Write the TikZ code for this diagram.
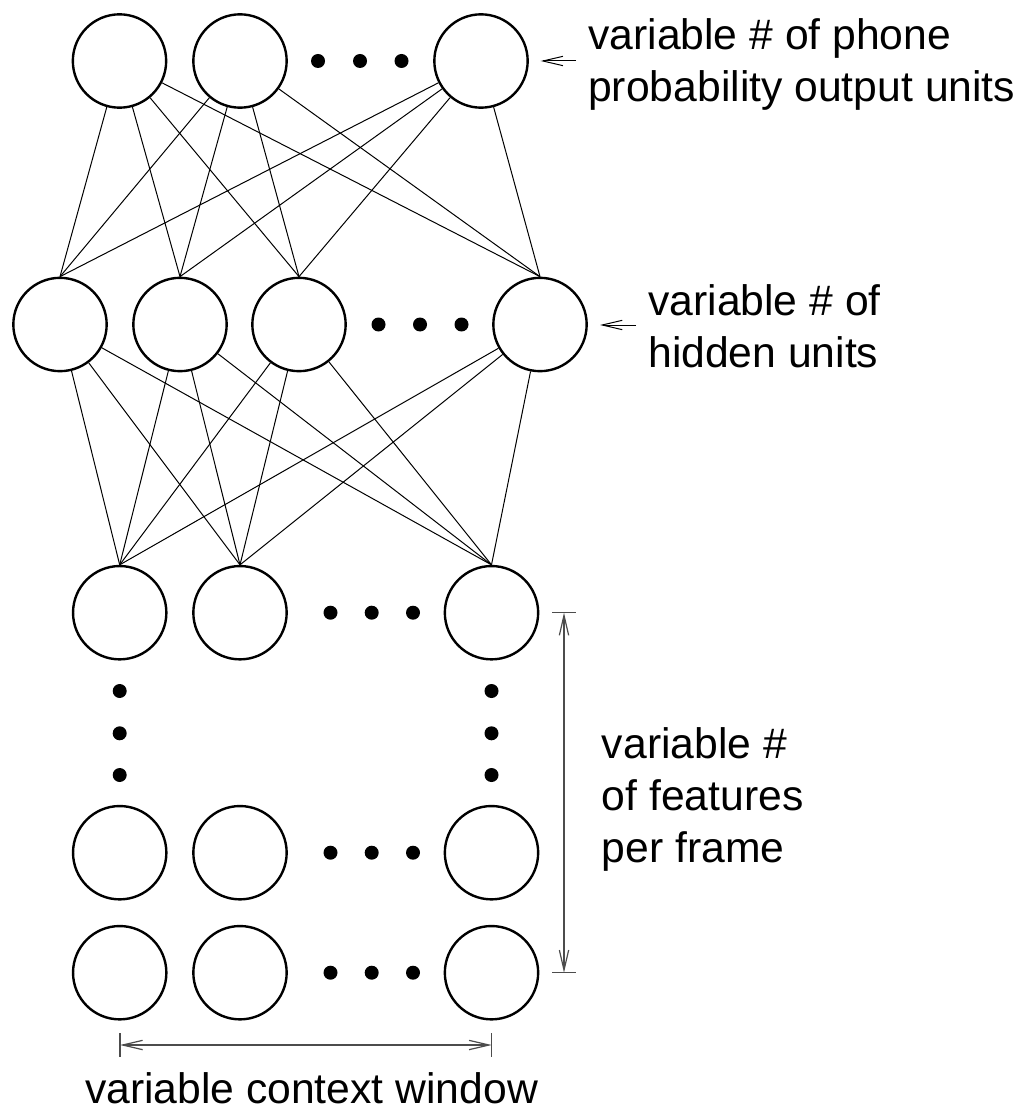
\documentclass[tikz,border=0pt]{standalone}
\usepackage{fontspec}
\setmainfont{Liberation Sans}
\usetikzlibrary{arrows.meta,calc}
\begin{document}
\begin{tikzpicture}[x=0.75pt,y=-0.75pt,
  unit/.style={circle,draw,line width=1.8pt,minimum size=70pt,inner sep=0pt},
  dot/.style={circle,fill,minimum size=10.5pt,inner sep=0pt},
  link/.style={line width=0.75pt},
  barb/.tip={Straight Barb[length=15pt,width=7pt]},
  pointer/.style={line width=0.75pt,-barb},
  dimline/.style={line width=0.9pt,black!70,barb-barb},
  dimtick/.style={line width=0.9pt,black!70},
  % multi-line labels are placed by the baseline of their last line
  lbl/.style={font=\fontsize{32}{39}\selectfont,align=left,inner sep=0pt,anchor=base west}]
\useasboundingbox (0,0) rectangle (1027,1112);

% output layer
\node[unit] (o1) at (119.5,61) {};
\node[unit] (o2) at (240,61) {};
\node[unit] (o3) at (481,61) {};
\node[dot] (od1) at (318,61) {};
\node[dot] (od2) at (360,61) {};
\node[dot] (od3) at (401.5,61) {};

% hidden layer
\node[unit] (h1) at (60,324.5) {};
\node[unit] (h2) at (180,324.5) {};
\node[unit] (h3) at (299,324.5) {};
\node[unit] (h4) at (540,324.5) {};
\node[dot] (hd1) at (378.5,324.5) {};
\node[dot] (hd2) at (420,324.5) {};
\node[dot] (hd3) at (461.5,324.5) {};

% input frames
\foreach \r/\y in {a/612.7,b/852.7,c/972.7}{
  \node[unit] (i\r1) at (119.7,\y) {};
  \node[unit] (i\r2) at (240,\y) {};
  \node[unit] (i\r3) at (491.5,\y) {};
  \node[dot] (i\r d1) at (330.5,\y) {};
  \node[dot] (i\r d2) at (371.7,\y) {};
  \node[dot] (i\r d3) at (413,\y) {};
}
\foreach \k/\y in {1/691,2/733.3,3/775}{
  \node[dot] (vl\k) at (119.7,\y) {};
  \node[dot] (vr\k) at (491.5,\y) {};
}

% connections
\foreach \o in {o1,o2,o3}
  \foreach \h in {h1,h2,h3,h4}
    \draw[link] (\o) -- (\h.north);
\foreach \h in {h1,h2,h3,h4}
  \foreach \i in {ia1,ia2,ia3}
    \draw[link] (\h) -- (\i.north);

% labels with pointers
\node[lbl] (outlbl) at (588,102) {variable \# of phone\\probability output units};
\coordinate (outtail) at (576,61);
\coordinate (outtip) at (540.7,61);
\draw[pointer] (outtail) -- (outtip);

\node[lbl] (hidlbl) at (648,367) {variable \# of\\hidden units};
\coordinate (hidtail) at (636,325);
\coordinate (hidtip) at (600,325);
\draw[pointer] (hidtail) -- (hidtip);

% features per frame dimension
\coordinate (ftop) at (564,612.7);
\coordinate (fbot) at (564,972.7);
\draw[dimline] (ftop) -- (fbot);
\draw[dimtick] ($(ftop)+(-12,0)$) -- ($(ftop)+(12,0)$);
\draw[dimtick] ($(fbot)+(-12,0)$) -- ($(fbot)+(12,0)$);
\node[lbl] (featlbl) at (601.7,862) {variable \#\\of features\\per frame};

% context window dimension
\coordinate (wl) at (120,1045);
\coordinate (wr) at (491.7,1045);
\draw[dimline] (wl) -- (wr);
\draw[dimtick] ($(wl)+(0,-12)$) -- ($(wl)+(0,12)$);
\draw[dimtick] ($(wr)+(0,-12)$) -- ($(wr)+(0,12)$);
\node[lbl,anchor=base] (winlbl) at (311.5,1103) {variable context window};
\end{tikzpicture}
\end{document}
